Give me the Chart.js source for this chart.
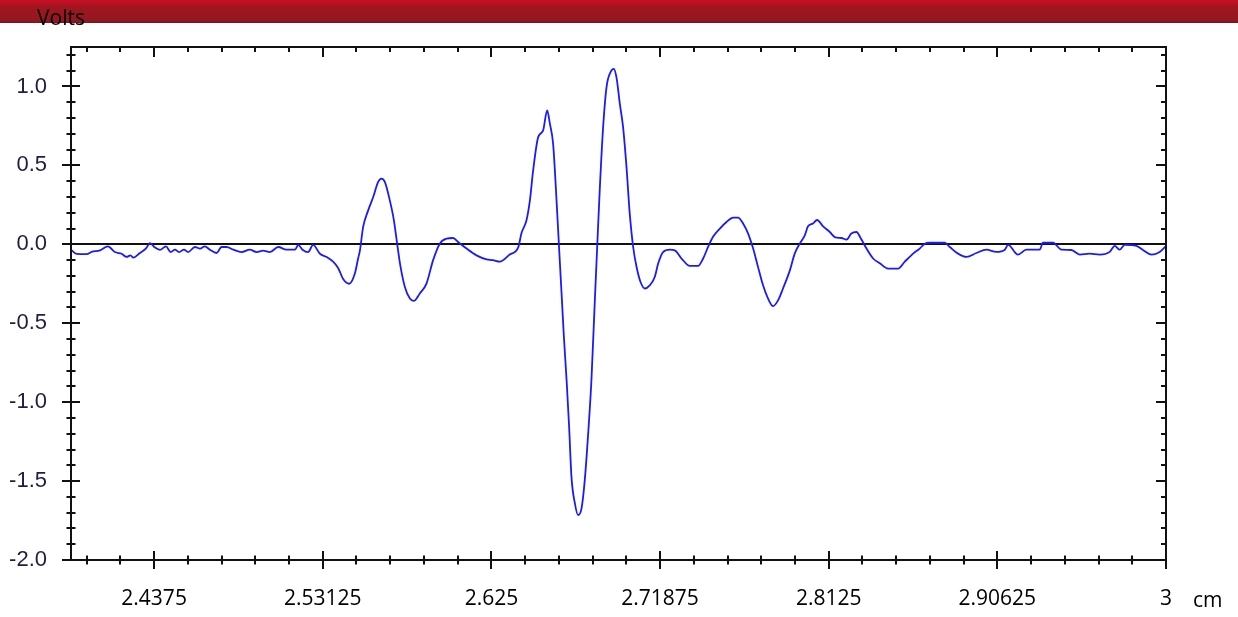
<!DOCTYPE html>
<html><head><meta charset="utf-8">
<script src="https://cdn.jsdelivr.net/npm/chart.js@4.4.1/dist/chart.umd.min.js"></script>
<style>html,body{margin:0;padding:0;background:#fff;overflow:hidden}canvas{display:block}</style>
</head><body>
<canvas id="c" width="1238" height="617"></canvas>
<script>
// ---- data (position in cm, signal in volts) ----
const positionCm = [
2.3913,2.3944,2.4000,2.4028,2.4074,2.4118,2.4157,2.4194,2.4222,2.4244,2.4259,2.4296,2.4329,2.4352,
2.4379,2.4407,2.4441,2.4467,2.4491,2.4514,2.4541,2.4564,2.4602,2.4630,2.4657,2.4685,2.4722,2.4750,
2.4778,2.4815,2.4861,2.4907,2.4945,2.4981,2.5019,2.5065,2.5111,2.5158,2.5176,2.5200,2.5231,2.5259,
2.5297,2.5334,2.5370,2.5398,2.5426,2.5459,2.5491,2.5509,2.5519,2.5537,2.5565,2.5593,2.5620,2.5639,
2.5658,2.5685,2.5708,2.5726,2.5745,2.5769,2.5797,2.5819,2.5852,2.5889,2.5926,2.5963,2.6001,2.6037,
2.6065,2.6112,2.6167,2.6223,2.6258,2.6297,2.6352,2.6399,2.6417,2.6445,2.6464,2.6482,2.6510,2.6537,
2.6560,2.6575,2.6593,2.6608,2.6625,2.6640,2.6653,2.6668,2.6682,2.6695,2.6714,2.6732,2.6751,2.6769,
2.6788,2.6806,2.6825,2.6838,2.6853,2.6871,2.6890,2.6912,2.6930,2.6945,2.6964,2.6982,2.7001,2.7019,
2.7038,2.7057,2.7079,2.7103,2.7130,2.7158,2.7177,2.7204,2.7242,2.7269,2.7307,2.7353,2.7399,2.7427,
2.7455,2.7482,2.7520,2.7557,2.7594,2.7621,2.7649,2.7677,2.7705,2.7732,2.7760,2.7788,2.7816,2.7844,
2.7871,2.7909,2.7936,2.7964,2.7992,2.8010,2.8038,2.8060,2.8094,2.8131,2.8159,2.8196,2.8224,2.8251,
2.8279,2.8307,2.8335,2.8372,2.8409,2.8455,2.8511,2.8548,2.8594,2.8631,2.8659,2.8687,2.8733,2.8770,
2.8798,2.8844,2.8891,2.8946,2.9002,2.9057,2.9104,2.9122,2.9177,2.9224,2.9298,2.9316,2.9372,2.9419,
2.9474,2.9520,2.9576,2.9631,2.9687,2.9715,2.9743,2.9770,2.9835,2.9872,2.9919,2.9965,3.0000
];
const voltage = [
-0.034,-0.060,-0.062,-0.048,-0.038,-0.013,-0.049,-0.060,-0.080,-0.070,-0.085,-0.055,-0.028,0.008,
-0.020,-0.035,-0.013,-0.049,-0.034,-0.049,-0.034,-0.049,-0.017,-0.027,-0.013,-0.034,-0.055,-0.017,
-0.017,-0.034,-0.049,-0.034,-0.049,-0.040,-0.049,-0.017,-0.034,-0.034,-0.004,-0.034,-0.049,-0.004,
-0.060,-0.080,-0.110,-0.150,-0.220,-0.250,-0.185,-0.090,-0.040,0.110,0.215,0.300,0.394,0.416,
0.394,0.280,0.152,0.004,-0.143,-0.270,-0.344,-0.359,-0.312,-0.249,-0.100,0.004,0.036,0.040,
0.015,-0.027,-0.070,-0.095,-0.100,-0.110,-0.065,-0.020,0.070,0.152,0.278,0.468,0.679,0.720,
0.848,0.764,0.637,0.363,0.004,-0.312,-0.587,-0.861,-1.156,-1.473,-1.641,-1.715,-1.673,-1.494,
-1.198,-0.861,-0.354,-0.017,0.363,0.742,0.996,1.090,1.112,1.059,0.890,0.742,0.489,0.194,
-0.017,-0.144,-0.239,-0.280,-0.260,-0.207,-0.122,-0.049,-0.034,-0.038,-0.090,-0.137,-0.137,-0.090,
-0.015,0.048,0.100,0.141,0.169,0.169,0.132,0.068,-0.027,-0.143,-0.260,-0.344,-0.392,-0.354,
-0.280,-0.165,-0.059,0.004,0.057,0.114,0.132,0.154,0.114,0.078,0.046,0.040,0.030,0.068,
0.078,0.030,-0.027,-0.090,-0.120,-0.154,-0.154,-0.110,-0.059,-0.027,0.004,0.010,0.010,0.010,
-0.017,-0.059,-0.080,-0.055,-0.034,-0.048,-0.034,-0.004,-0.065,-0.034,-0.034,0.010,0.010,-0.034,
-0.036,-0.065,-0.059,-0.065,-0.048,-0.010,-0.034,-0.004,-0.010,-0.036,-0.065,-0.048,-0.010
];
const xMajorTicks = [2.4375, 2.53125, 2.625, 2.71875, 2.8125, 2.90625, 3];
const xTickLabels = ['2.4375', '2.53125', '2.625', '2.71875', '2.8125', '2.90625', '3'];
const yMajorTicks = [-2, -1.5, -1, -0.5, 0, 0.5, 1];
const yTickLabels = ['-2.0', '-1.5', '-1.0', '-0.5', '0.0', '0.5', '1.0'];
const xMinorStep = 0.01875;
const yMinorStep = 0.1;
const yAxisTitle = 'Volts';
const xAxisUnit = 'cm';

function minorTicks(start, step, min, max) {
  const out = [];
  for (let k = -100; k <= 100; k++) {
    const v = start + k * step;
    if (v >= min - 1e-9 && v <= max + 1e-9) out.push(v);
  }
  return out;
}

const framePlugin = {
  id: 'frame',
  beforeDraw(chart) {
    const ctx = chart.ctx;
    ctx.save();
    const g = ctx.createLinearGradient(0, 0, 0, 23);
    g.addColorStop(0, '#cc0f26');
    g.addColorStop(0.14, '#b81222');
    g.addColorStop(0.3, '#a0161f');
    g.addColorStop(0.9, '#941720');
    g.addColorStop(1, '#6e1a1e');
    ctx.fillStyle = g;
    ctx.fillRect(0, 0, chart.width, 23);
    ctx.restore();
  },
  afterDatasetsDraw(chart) {
    const { ctx, chartArea: a, scales: { x, y } } = chart;
    ctx.save();
    ctx.strokeStyle = '#111';
    ctx.lineWidth = 2;
    ctx.strokeRect(a.left, a.top, a.right - a.left, a.bottom - a.top);
    const isMajor = (v, arr) => arr.some(m => Math.abs(m - v) < 1e-6);
    ctx.beginPath();
    // x ticks (bottom crossing, top inward)
    minorTicks(xMajorTicks[0], xMinorStep, x.min, x.max).forEach(v => {
      const px = Math.round(x.getPixelForValue(v));
      const big = isMajor(v, xMajorTicks);
      const l = big ? 9 : 4.5;
      ctx.moveTo(px, a.bottom - l); ctx.lineTo(px, a.bottom + l);
      ctx.moveTo(px, a.top); ctx.lineTo(px, a.top + (big ? 10 : 5));
    });
    // y ticks (left crossing, right inward)
    minorTicks(0, yMinorStep, y.min, y.max).forEach(v => {
      const py = Math.round(y.getPixelForValue(v));
      const big = isMajor(v, yMajorTicks);
      const l = big ? 9 : 4.5;
      ctx.moveTo(a.left - l, py); ctx.lineTo(a.left + l, py);
      ctx.moveTo(a.right, py); ctx.lineTo(a.right - (big ? 10 : 5), py);
    });
    ctx.stroke();
    ctx.fillStyle = '#000';
    ctx.font = '21px "Open Sans"';
    ctx.textAlign = 'left';
    ctx.textBaseline = 'alphabetic';
    ctx.fillText(yAxisTitle, 37, 25);
    ctx.fillText(xAxisUnit, 1193, 607);
    ctx.restore();
  }
};

new Chart(document.getElementById('c'), {
  type: 'line',
  data: {
    datasets: [{
      data: positionCm.map((p, i) => ({ x: p, y: voltage[i] })),
      borderColor: '#1a1aff',
      borderWidth: 1.8,
      pointRadius: 0,
      fill: false,
      cubicInterpolationMode: 'monotone'
    }]
  },
  options: {
    responsive: false,
    devicePixelRatio: 1,
    animation: false,
    layout: { padding: { top: 47, right: 72, left: 0, bottom: 0 } },
    plugins: { legend: { display: false }, tooltip: { enabled: false }, title: { display: false } },
    scales: {
      x: {
        type: 'linear',
        position: 'bottom',
        min: 2.3913,
        max: 3,
        afterBuildTicks: s => { s.ticks = xMajorTicks.map(v => ({ value: v })); },
        afterFit: s => { s.height = 57; },
        grid: { display: false, drawTicks: false },
        border: { display: false },
        ticks: {
          autoSkip: false,
          maxRotation: 0,
          padding: 26,
          color: '#000',
          font: { family: '"Open Sans"', size: 21 },
          callback: (v, i) => xTickLabels[i]
        }
      },
      y: {
        type: 'linear',
        position: 'left',
        min: -2,
        max: 1.25,
        afterBuildTicks: s => { s.ticks = yMajorTicks.map(v => ({ value: v })); },
        afterFit: s => { s.width = 71; },
        grid: {
          drawTicks: false,
          color: c => (c.tick && Math.abs(c.tick.value) < 1e-9) ? '#111' : 'rgba(0,0,0,0)',
          lineWidth: 2
        },
        border: { display: false },
        ticks: {
          autoSkip: false,
          padding: 24,
          color: '#1e1e44',
          font: { family: '"Liberation Sans", Arial', size: 22 },
          callback: (v, i) => yTickLabels[i]
        }
      }
    }
  },
  plugins: [framePlugin]
});
</script>
</body></html>
